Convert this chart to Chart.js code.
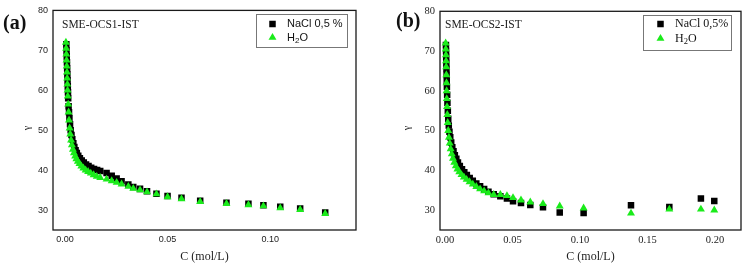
<!DOCTYPE html>
<html lang="en">
<head>
<meta charset="UTF-8">
<title>Surface tension vs concentration</title>
<script src="https://cdn.jsdelivr.net/npm/chart.js@4"></script>
<style>
  body { margin: 0; background: #fff; }
  .wrap { position: relative; width: 747px; height: 266px; }
  canvas { position: absolute; top: 0; }
  #chartA { left: 0; }
  #chartB { left: 373px; }
  .tag { position: absolute; font: bold 20px "Liberation Serif", serif; line-height: 24px; color: #111; }
</style>
</head>
<body>
<div class="wrap">
  <canvas id="chartA" width="373" height="266"></canvas>
  <canvas id="chartB" width="374" height="266"></canvas>
  <div class="tag" style="left:3px;top:10px">(a)</div>
  <div class="tag" style="left:396px;top:8px">(b)</div>
</div>
<script>
// panel (a) SME-OCS1-IST
const cNaclA = [0.0007, 0.0008, 0.0009, 0.0010, 0.0011, 0.0012, 0.0013, 0.0014, 0.0015, 0.0016,
  0.0018, 0.0020, 0.0022, 0.0025, 0.0028, 0.0032, 0.0036, 0.0041, 0.0046, 0.0052,
  0.0058, 0.0065, 0.0073, 0.0082, 0.0092, 0.0103, 0.0115, 0.0128, 0.0142, 0.0157,
  0.0172, 0.0203, 0.0228, 0.0252, 0.0276, 0.0309, 0.0333, 0.0366, 0.0400, 0.0446,
  0.0500, 0.0568, 0.0659, 0.0787, 0.0894, 0.0967, 0.1049, 0.1146, 0.1268];
const yNaclA = [71.5, 70, 68.5, 67, 65.5, 64, 62.5, 61, 59.5, 58,
  56, 54.5, 53, 51.5, 50, 48.8, 47.7, 46.7, 45.8, 45,
  44.3, 43.6, 43, 42.4, 41.9, 41.4, 41, 40.6, 40.3, 40,
  39.8, 39.3, 38.6, 37.9, 37.2, 36.4, 35.8, 35.3, 34.7, 34.1,
  33.5, 33.1, 32.3, 31.8, 31.6, 31.2, 30.8, 30.4, 29.4];
const cWaterA = [0.0005, 0.0006, 0.0007, 0.0008, 0.0009, 0.0010, 0.0011, 0.0012, 0.0013, 0.0014,
  0.0016, 0.0018, 0.0020, 0.0023, 0.0026, 0.0030, 0.0034, 0.0039, 0.0044, 0.0050,
  0.0056, 0.0063, 0.0071, 0.0080, 0.0090, 0.0101, 0.0113, 0.0126, 0.0140, 0.0155,
  0.0172, 0.0203, 0.0228, 0.0252, 0.0276, 0.0309, 0.0333, 0.0366, 0.0400, 0.0446,
  0.0500, 0.0568, 0.0659, 0.0787, 0.0894, 0.0967, 0.1049, 0.1146, 0.1268];
const yWaterA = [72, 70.5, 69, 67.5, 66, 64.5, 63, 61.5, 60, 58.5,
  56.5, 54.5, 52.5, 50.5, 49, 47.5, 46.3, 45.2, 44.3, 43.5,
  42.8, 42.2, 41.6, 41, 40.5, 40, 39.6, 39.2, 38.8, 38.4,
  38.1, 37.7, 37.3, 36.9, 36.5, 35.9, 35.4, 35, 34.5, 34,
  33.3, 32.8, 32.1, 31.6, 31.3, 31, 30.5, 30.1, 29.1];

// panel (b) SME-OCS2-IST
const cNaclB = [0.0007, 0.0008, 0.0009, 0.0010, 0.0011, 0.0012, 0.0013, 0.0014,
  0.0016, 0.0018, 0.0021, 0.0024, 0.0028, 0.0033, 0.0039, 0.0046, 0.0054, 0.0063,
  0.0073, 0.0084, 0.0096, 0.0110, 0.0126, 0.0143, 0.0162, 0.0183, 0.0206, 0.0232,
  0.0260, 0.0290, 0.0322, 0.0361, 0.0410,
  0.0459, 0.0504, 0.0563, 0.0632, 0.0726, 0.0850, 0.1027, 0.1378, 0.1662, 0.1896, 0.1995];
const yNaclB = [71.5, 70, 68.5, 67, 65.5, 64, 62.5, 61,
  59, 57, 55, 53, 51.3, 49.7, 48.3, 47, 45.8, 44.8,
  43.8, 42.9, 42.0, 41.1, 40.3, 39.5, 38.8, 38.1, 37.4, 36.7,
  36, 35.3, 34.6, 34, 33.5,
  32.9, 32.2, 31.8, 31.3, 30.7, 29.4, 29.3, 31.2, 30.8, 32.9, 32.3];
const cWaterB = [0.0005, 0.0006, 0.0007, 0.0008, 0.0009, 0.0010, 0.0011, 0.0012, 0.0013, 0.0015,
  0.0017, 0.0020, 0.0024, 0.0029, 0.0035, 0.0042, 0.0050, 0.0059, 0.0069, 0.0080,
  0.0092, 0.0106, 0.0122, 0.0140, 0.0160, 0.0182, 0.0206, 0.0232, 0.0260, 0.0290,
  0.0322, 0.0361, 0.0410, 0.0459, 0.0504, 0.0563, 0.0632, 0.0726, 0.0850, 0.1027,
  0.1378, 0.1662, 0.1896, 0.1995];
const yWaterB = [72, 70.5, 69, 67.5, 66, 64, 62, 60, 58, 56,
  54, 52, 50, 48.3, 46.8, 45.4, 44.1, 43, 42, 41.1,
  40.3, 39.6, 38.9, 38.3, 37.7, 37.1, 36.5, 35.9, 35.3, 34.8,
  34.3, 33.9, 33.9, 33.6, 33.1, 32.5, 32, 31.6, 31, 30.5,
  29.2, 30.2, 30.2, 30];

const xTicksA = [0, 0.05, 0.10];
const xTicksB = [0, 0.05, 0.10, 0.15, 0.20];
const yTicks = [30, 40, 50, 60, 70, 80];

const SERIF = '"Liberation Serif", "Times New Roman", serif';
const SANS = '"Liberation Sans", Arial, sans-serif';
const GREEN = '#1aeb1a';

function toPoints(cs, ys) {
  return cs.map((c, i) => ({ x: c, y: ys[i] }));
}

// draws text, turning "₂" into a small lowered 2
function drawLabel(ctx, text, x, y, subFont) {
  const base = ctx.font;
  text.split('₂').forEach((part, k) => {
    if (k > 0) {
      ctx.font = subFont;
      ctx.fillText('2', x, y + 3);
      x += ctx.measureText('2').width;
      ctx.font = base;
    }
    ctx.fillText(part, x, y);
    x += ctx.measureText(part).width;
  });
}

// frame around the plot, sample name, gamma label and the boxed legend
const panelDecor = {
  id: 'panelDecor',
  afterDatasetsDraw(chart, args, o) {
    const { ctx, chartArea: a } = chart;
    ctx.save();
    ctx.strokeStyle = '#1a1a1a';
    ctx.lineWidth = 1.3;
    ctx.strokeRect(a.left, a.top, a.right - a.left, a.bottom - a.top);

    ctx.fillStyle = '#222';
    ctx.textBaseline = 'middle';
    ctx.textAlign = 'left';
    ctx.font = o.nameFont;
    ctx.fillText(o.name, a.left + o.nameAt[0], a.top + o.nameAt[1]);

    ctx.save();
    ctx.translate(o.gammaAt[0], o.gammaAt[1]);
    ctx.rotate(-Math.PI / 2);
    ctx.textAlign = 'center';
    ctx.font = '10px ' + SERIF;
    ctx.fillText('γ', 0, 0);
    ctx.restore();

    const [bx, by, bw, bh] = o.box;
    ctx.strokeStyle = '#777';
    ctx.lineWidth = 1;
    ctx.strokeRect(bx + 0.5, by + 0.5, bw, bh);
    ctx.font = o.font;
    chart.data.datasets.forEach((ds, i) => {
      const y = o.rows[i];
      ctx.fillStyle = ds.backgroundColor;
      Chart.helpers.drawPoint(ctx, { pointStyle: ds.pointStyle, radius: ds.pointRadius, borderWidth: 0, rotation: 0 }, o.markerX, y);
      ctx.fillStyle = '#111';
      drawLabel(ctx, ds.label, o.textX, y, o.subFont);
    });
    ctx.restore();
  }
};

function makeChart(id, cfg) {
  return new Chart(document.getElementById(id), {
    type: 'scatter',
    data: {
      datasets: [
        {
          label: cfg.naclLabel,
          data: toPoints(cfg.naclC, cfg.naclY),
          pointStyle: 'rect',
          pointRadius: 4.6,
          backgroundColor: '#000',
          borderWidth: 0,
          order: 1
        },
        {
          label: 'H₂O',
          data: toPoints(cfg.waterC, cfg.waterY),
          pointStyle: 'triangle',
          pointRadius: 4.6,
          backgroundColor: GREEN,
          borderWidth: 0,
          order: 0
        }
      ]
    },
    options: {
      responsive: false,
      animation: false,
      events: [],
      layout: { padding: { top: 8, right: cfg.padRight, left: 0, bottom: 0 } },
      plugins: {
        legend: { display: false },
        tooltip: { enabled: false },
        panelDecor: cfg.decor
      },
      scales: {
        x: {
          type: 'linear',
          min: cfg.xMin,
          max: cfg.xMax,
          grid: { display: false, drawTicks: false },
          border: { display: false },
          afterBuildTicks: s => { s.ticks = cfg.xTicks.map(v => ({ value: v })); },
          afterFit: s => { s.height = 36; },
          ticks: {
            padding: 4,
            color: '#222',
            font: cfg.tickFont,
            maxRotation: 0,
            callback: v => v.toFixed(2)
          },
          title: {
            display: true,
            text: 'C (mol/L)',
            color: '#222',
            font: { family: SERIF, size: 12 },
            padding: { top: 0, bottom: 2 }
          }
        },
        y: {
          min: 25,
          max: 80,
          grid: { display: false, drawTicks: false },
          border: { display: false },
          afterBuildTicks: s => { s.ticks = yTicks.map(v => ({ value: v })); },
          afterFit: s => { s.width = cfg.yWidth; },
          ticks: { padding: 5, color: '#222', font: cfg.tickFont }
        }
      }
    },
    plugins: [panelDecor]
  });
}

makeChart('chartA', {
  naclLabel: 'NaCl 0,5 %',
  naclC: cNaclA, naclY: yNaclA, waterC: cWaterA, waterY: yWaterA,
  xTicks: xTicksA, xMin: -0.0058, xMax: 0.1418,
  padRight: 17, yWidth: 53,
  tickFont: { family: SANS, size: 9 },
  decor: {
    name: 'SME-OCS1-IST', nameFont: '11.5px ' + SERIF, nameAt: [9, 15],
    gammaAt: [27, 128],
    box: [256, 14, 91, 33], markerX: 272.5, textX: 287, rows: [24, 37.5],
    font: '11px ' + SANS, subFont: '8px ' + SANS
  }
});

makeChart('chartB', {
  naclLabel: 'NaCl 0,5%',
  naclC: cNaclB, naclY: yNaclB, waterC: cWaterB, waterY: yWaterB,
  xTicks: xTicksB, xMin: -0.0037, xMax: 0.2193,
  padRight: 6, yWidth: 67,
  tickFont: { family: SERIF, size: 10.5 },
  decor: {
    name: 'SME-OCS2-IST', nameFont: '11.5px ' + SERIF, nameAt: [5, 14],
    gammaAt: [34, 128],
    box: [270, 15, 88, 35], markerX: 287.5, textX: 302, rows: [24, 38.5],
    font: '12px ' + SERIF, subFont: '8.5px ' + SERIF
  }
});
</script>
</body>
</html>
